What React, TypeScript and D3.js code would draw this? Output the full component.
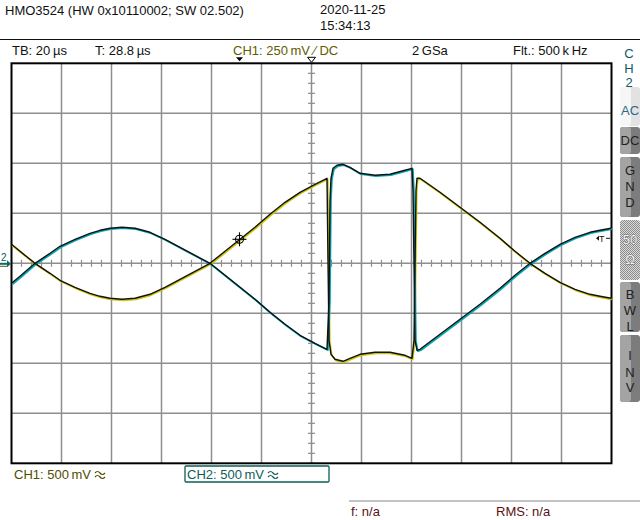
import React from "react";
import * as d3 from "d3";

// time in µs (20 µs/div), voltage in V (500 mV/div), screen centre = (0, 0)
const ch1Time = [-120, -116.6, -110.6, -104.6, -100.6, -94.6, -88.6, -84.6, -80.6, -75.8, -70.6, -64.6, -58.6, -52.6, -46.6, -40.6, -34.6, -28.6, -22.6, -16.6, -10.6, -4.6, 1.4, 6.2, 6.6, 7.0, 7.8, 9.4, 12.6, 15.4, 19.4, 25.4, 31.4, 37.4, 40.2, 41.0, 41.4, 41.8, 42.2, 43.4, 51.4, 59.4, 67.4, 75.4, 81.4, 87.4, 93.4, 99.4, 105.4, 111.4, 115.4, 119.8];
const ch1Volt = [0.19, 0.12, 0, -0.1, -0.17, -0.24, -0.3, -0.33, -0.35, -0.36, -0.35, -0.31, -0.24, -0.16, -0.08, 0, 0.12, 0.24, 0.36, 0.49, 0.61, 0.71, 0.79, 0.85, 0.03, -0.77, -0.91, -0.96, -0.98, -0.95, -0.91, -0.89, -0.89, -0.92, -0.95, -0.77, 0, 0.73, 0.85, 0.85, 0.71, 0.56, 0.41, 0.25, 0.12, 0, -0.1, -0.19, -0.26, -0.31, -0.33, -0.35];

const ch2Time = [-120, -116.6, -110.6, -104.6, -100.6, -94.6, -88.6, -84.6, -80.6, -75.8, -70.6, -64.6, -58.6, -52.6, -46.6, -40.6, -34.6, -28.6, -22.6, -16.6, -10.6, -4.6, 1.4, 6.2, 7.0, 7.4, 7.8, 8.6, 10.2, 12.6, 15.4, 19.4, 25.4, 31.4, 37.4, 40.2, 40.6, 41.0, 41.4, 42.2, 43.4, 51.4, 59.4, 67.4, 75.4, 81.4, 87.4, 93.4, 99.4, 105.4, 111.4, 115.4, 119.8];
const ch2Volt = [-0.2, -0.13, 0, 0.1, 0.17, 0.24, 0.3, 0.33, 0.35, 0.36, 0.35, 0.31, 0.24, 0.16, 0.08, 0, -0.12, -0.24, -0.36, -0.49, -0.61, -0.72, -0.8, -0.86, -0.37, 0.63, 0.85, 0.95, 0.98, 0.99, 0.96, 0.9, 0.88, 0.89, 0.93, 0.95, 0.73, 0, -0.77, -0.87, -0.86, -0.71, -0.56, -0.41, -0.25, -0.12, 0, 0.1, 0.19, 0.26, 0.31, 0.33, 0.35];

const headerTitle = "HMO3524 (HW 0x10110002; SW 02.502)";
const headerDate = "2020-11-25";
const headerTime = "15:34:13";
const statusTB = "TB: 20\u2009µs";
const statusT = "T: 28.8\u2009µs";
const statusCH1 = "CH1: 250\u2009mV \u2215 DC";
const statusRate = "2\u2009GSa";
const statusFlt = "Flt.: 500\u2009k\u2009Hz";
const footCH1 = "CH1: 500\u2009mV";
const footCH2 = "CH2: 500\u2009mV";
const measF = "f: n/a";
const measRMS = "RMS: n/a";
const triggerTime = -28.8;
const triggerLevel = 0.24;

const FONT = "'Liberation Sans', Arial, sans-serif";

export default function App() {
  const left = 11.5, right = 611.5, top = 63.3, bottom = 463.3;
  const x = d3.scaleLinear().domain([-120, 120]).range([left, right]);
  const y = d3.scaleLinear().domain([-2, 2]).range([bottom, top]);
  const xTicks = d3.range(-120, 121, 20);
  const yTicks = d3.range(-2, 2.01, 0.5);
  const minorX = d3.range(-120, 120.1, 4);
  const minorY = d3.range(-2, 2.01, 0.1);

  const line = d3
    .line<[number, number]>()
    .x((d) => x(d[0]))
    .y((d) => y(d[1]));
  const ch1 = line(ch1Time.map((t, i) => [t, ch1Volt[i]] as [number, number])) || "";
  const ch2 = line(ch2Time.map((t, i) => [t, ch2Volt[i]] as [number, number])) || "";

  const tx = x(triggerTime);
  const cx = x(0);
  const cy = y(0);

  const btn = (y0: number, h: number, l: string, r: string) => (
    <g>
      <rect x={620} y={y0} width={20} height={h} rx={3} fill={r} />
      <rect x={620} y={y0} width={11} height={h} rx={3} fill={l} />
    </g>
  );

  const approx = (x0: number, y0: number, c: string) => (
    <g fill="none" stroke={c} strokeWidth={1.2}>
      <path d={`M${x0},${y0}q2.5,-3 5,0t5,0`} />
      <path d={`M${x0},${y0 + 4}q2.5,-3 5,0t5,0`} />
    </g>
  );

  return (
    <div style={{ position: "absolute", left: 0, top: 0 }}>
      <svg width={640} height={520} style={{ display: "block", background: "#fff" }} fontFamily={FONT}>
        <defs>
          <pattern id="dither" width={2} height={2} patternUnits="userSpaceOnUse">
            <rect width={2} height={2} fill="#dcdcdc" />
            <rect width={1} height={1} fill="#8a8a8a" />
            <rect x={1} y={1} width={1} height={1} fill="#8a8a8a" />
          </pattern>
        </defs>
        <rect width={640} height={520} fill="#fff" />

        {/* header */}
        <text x={5} y={15} fontSize={13} fill="#111">{headerTitle}</text>
        <text x={320} y={14} fontSize={13} fill="#111">{headerDate}</text>
        <text x={320} y={30} fontSize={13} fill="#111">{headerTime}</text>
        <line x1={0} x2={640} y1={39.5} y2={39.5} stroke="#111" strokeWidth={1.2} />
        <text x={12} y={55} fontSize={13} fill="#111">{statusTB}</text>
        <text x={95} y={55} fontSize={13} fill="#111">{statusT}</text>
        <text x={233} y={55} fontSize={13} fill="#615d00">{statusCH1}</text>
        <text x={412} y={55} fontSize={13} fill="#111">{statusRate}</text>
        <text x={513} y={55} fontSize={13} fill="#111">{statusFlt}</text>

        {/* grid */}
        {xTicks.slice(1, -1).map((t) => (
          <line key={"gx" + t} x1={x(t)} x2={x(t)} y1={top} y2={bottom} stroke="#8e8e8e" strokeWidth={1.5} />
        ))}
        {yTicks.slice(1, -1).map((v) => (
          <line key={"gy" + v} x1={left} x2={right} y1={y(v)} y2={y(v)} stroke="#8e8e8e" strokeWidth={1.5} />
        ))}
        {minorX.map((t) => (
          <line key={"mx" + t} x1={x(t)} x2={x(t)} y1={cy - 3.5} y2={cy + 3.5} stroke="#8e8e8e" strokeWidth={1.2} />
        ))}
        {minorY.map((v) => (
          <line key={"my" + v.toFixed(2)} x1={cx - 3.5} x2={cx + 3.5} y1={y(v)} y2={y(v)} stroke="#8e8e8e" strokeWidth={1.2} />
        ))}
        <rect x={left} y={top} width={right - left} height={bottom - top} fill="none" stroke="#000" strokeWidth={2} />

        {/* markers on top edge */}
        <path d={`M${tx - 3.5},${top - 6}L${tx + 3.5},${top - 6}L${tx},${top - 2}Z`} fill="#000" />
        <path d={`M${cx - 4},${top - 6}L${cx + 4},${top - 6}L${cx},${top - 1}Z`} fill="#fff" stroke="#000" strokeWidth={1} />

        {/* ground marker left */}
        <text x={1} y={261} fontSize={10} fill="#0a5a5a">2</text>
        <line x1={0} x2={8} y1={cy + 0.5} y2={cy + 0.5} stroke="#0a6a6a" strokeWidth={2} />
        <path d={`M7,${cy - 3}L11,${cy + 0.5}L7,${cy + 4}Z`} fill="#0a6a6a" />
        <line x1={0} x2={7} y1={cy + 3} y2={cy + 3} stroke="#615d00" strokeWidth={1} />

        {/* trigger level marker */}
        <path d={`M596,${y(triggerLevel) - 1}L599,${y(triggerLevel) - 3.5}L599,${y(triggerLevel) + 1.5}Z`} fill="#111" />
        <text x={599} y={y(triggerLevel) + 3} fontSize={9} fill="#111">T</text>
        <line x1={606} x2={610} y1={y(triggerLevel) - 1} y2={y(triggerLevel) - 1} stroke="#111" strokeWidth={1} />

        {/* traces */}
        <g fill="none" strokeLinejoin="round">
          <path d={ch1} stroke="#cfc400" strokeWidth={1.8} transform="translate(0.7,1)" />
          <path d={ch2} stroke="#00a8b8" strokeWidth={1.8} transform="translate(0.9,0.9)" />
          <path d={ch1} stroke="#111" strokeWidth={1.4} />
          <path d={ch2} stroke="#111" strokeWidth={1.4} />
        </g>

        {/* crosshair at trigger point */}
        <g stroke="#000" strokeWidth={1.1} fill="none">
          <circle cx={tx} cy={y(triggerLevel)} r={4} />
          <line x1={tx - 7} x2={tx + 7} y1={y(triggerLevel)} y2={y(triggerLevel)} />
          <line x1={tx} x2={tx} y1={y(triggerLevel) - 7} y2={y(triggerLevel) + 7} />
        </g>

        {/* footer */}
        <text x={14} y={479} fontSize={13} fill="#514d00">{footCH1}</text>
        {approx(95, 473, "#514d00")}
        <rect x={185} y={466} width={144} height={16} fill="none" stroke="#0e5e58" strokeWidth={1.3} rx={1} />
        <text x={187} y={479} fontSize={13} fill="#0e5e58">{footCH2}</text>
        {approx(268, 473, "#0e5e58")}
        <line x1={349} x2={640} y1={501} y2={501} stroke="#888" strokeWidth={1} />
        <text x={351} y={516} fontSize={13} fill="#5a1010">{measF}</text>
        <text x={496} y={516} fontSize={13} fill="#5a1010">{measRMS}</text>

        {/* right panel */}
        <g fontSize={13} fill="#0e5a6a" textAnchor="middle">
          <text x={629} y={58}>C</text>
          <text x={629} y={73}>H</text>
          <text x={629} y={87}>2</text>
        </g>
        {btn(87, 39, "#f6f6f6", "#e2e2e2")}
        {btn(127, 27, "#a4a4a4", "#7c7c7c")}
        {btn(157, 60, "#a4a4a4", "#7c7c7c")}
        <rect x={620} y={220} width={20} height={60} rx={3} fill="url(#dither)" />
        {btn(282, 50, "#a4a4a4", "#7c7c7c")}
        {btn(335, 67, "#a4a4a4", "#7c7c7c")}
        <g fontSize={13} textAnchor="middle">
          <text x={630} y={115} fill="#2a6a86">AC</text>
          <text x={630} y={145} fill="#222">DC</text>
          <text x={630} y={175} fill="#222">G</text>
          <text x={630} y={191} fill="#222">N</text>
          <text x={630} y={207} fill="#222">D</text>
          <text x={630} y={244} fill="#f2f2f2" stroke="#6e6e6e" strokeWidth={0.9} paintOrder="stroke">50</text>
          <text x={630} y={264} fill="#f2f2f2" stroke="#6e6e6e" strokeWidth={0.9} paintOrder="stroke">Ω</text>
          <text x={630} y={299} fill="#222">B</text>
          <text x={630} y={315} fill="#222">W</text>
          <text x={630} y={331} fill="#222">L</text>
          <text x={630} y={360} fill="#222">I</text>
          <text x={630} y={377} fill="#222">N</text>
          <text x={630} y={392} fill="#222">V</text>
        </g>
      </svg>
    </div>
  );
}
